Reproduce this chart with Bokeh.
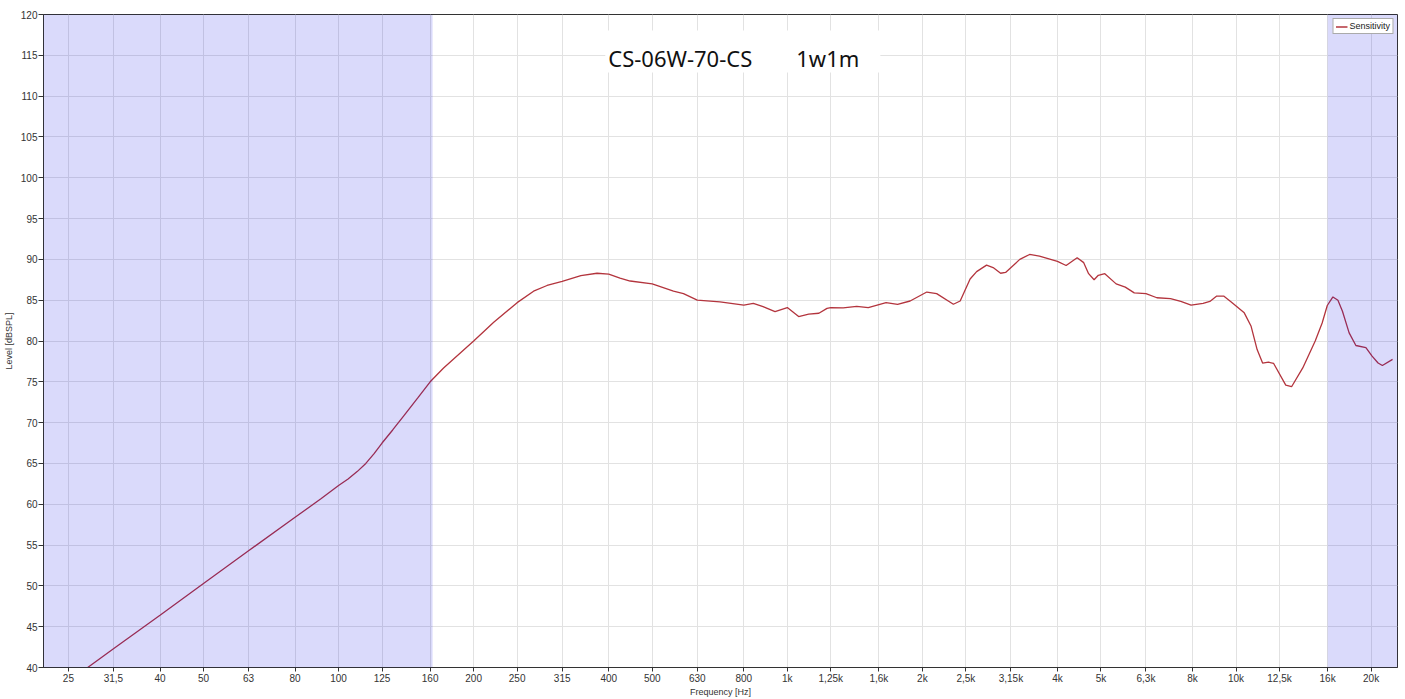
from bokeh.plotting import figure
from bokeh.models import FixedTicker, BoxAnnotation, Label, Legend, LegendItem, ColumnDataSource
from bokeh.embed import file_html
from bokeh.resources import INLINE

# ---- data ----
freq_hz = [27.6, 31.5, 40, 50, 63, 80, 91.5, 100, 105, 110, 115, 120, 125, 132, 140, 150, 160, 171.4,
           200, 221.7, 250, 272, 291.5, 315, 346.7, 376.7, 400, 423.8, 446.5, 500, 557.6, 587,
           630, 707.8, 800, 840, 883, 939, 1000, 1060, 1116, 1176, 1226, 1250, 1332, 1428,
           1515, 1660, 1761, 1878, 2046, 2152, 2345, 2428, 2555, 2642, 2780, 2875, 2988, 3065,
           3297, 3467, 3647, 4000, 4182, 4425, 4577, 4693, 4827, 4933, 5100, 5405, 5665, 5932,
           6300, 6662, 7145, 7532, 7940, 8445, 8745, 9057, 9385, 9725, 10430, 10805, 11143,
           11460, 11813, 12130, 12907, 13298, 14083, 15012, 15557, 15972, 16440, 16870, 17265,
           17867, 18497, 19472, 20100, 20728, 21190, 22328]
level_db = [40.0, 42.3, 46.4, 50.3, 54.3, 58.4, 60.7, 62.3, 63.1, 64.0, 65.0, 66.2, 67.5, 69.1,
            70.9, 73.0, 75.0, 76.7, 80.0, 82.3, 84.7, 86.1, 86.8, 87.3, 88.0, 88.3, 88.2, 87.7,
            87.35, 87.0, 86.1, 85.8, 85.0, 84.8, 84.4, 84.6, 84.2, 83.6, 84.1, 83.0, 83.3, 83.4,
            84.0, 84.1, 84.05, 84.25, 84.1, 84.7, 84.5, 84.9, 86.0, 85.8, 84.5, 84.9, 87.6, 88.5,
            89.3, 89.0, 88.3, 88.4, 90.0, 90.6, 90.4, 89.75, 89.25, 90.2, 89.6, 88.25, 87.5,
            88.05, 88.25, 87.0, 86.6, 85.9, 85.8, 85.3, 85.2, 84.85, 84.4, 84.6, 84.85, 85.5,
            85.5, 84.85, 83.45, 81.8, 78.95, 77.3, 77.4, 77.25, 74.6, 74.4, 76.7, 80.0, 82.2,
            84.35, 85.4, 85.0, 83.65, 81.0, 79.45, 79.2, 78.15, 77.3, 77.0, 77.75]

tick_freqs = [25, 31.5, 40, 50, 63, 80, 100, 125, 160, 200, 250, 315, 400, 500, 630, 800,
              1000, 1250, 1600, 2000, 2500, 3150, 4000, 5000, 6300, 8000, 10000, 12500, 16000, 20000]
tick_labels = ["25", "31,5", "40", "50", "63", "80", "100", "125", "160", "200", "250", "315",
               "400", "500", "630", "800", "1k", "1,25k", "1,6k", "2k", "2,5k", "3,15k", "4k",
               "5k", "6,3k", "8k", "10k", "12,5k", "16k", "20k"]
level_ticks = list(range(40, 121, 5))

series_name = "Sensitivity"
title_part1 = "CS-06W-70-CS"
title_part2 = "1w1m"
band_low_edge = 162
band_high_edge = 16000

# ---- figure ----
p = figure(width=1399, height=699, x_axis_type="log",
           x_range=(22.0, 22900), y_range=(40, 120),
           output_backend="svg", toolbar_location=None,
           min_border_left=43, min_border_right=2, min_border_top=14, min_border_bottom=30,
           background_fill_color="white", border_fill_color="white")
p.outline_line_color = "#333333"
p.outline_line_width = 1

src = ColumnDataSource(dict(f=freq_hz, L=level_db))
r = p.line("f", "L", source=src, line_color="#b3343d", line_width=1.3)

# shaded bands (drawn above the curve, semi-transparent)
for kw in (dict(right=band_low_edge), dict(left=band_high_edge)):
    p.add_layout(BoxAnnotation(fill_color="#0000e6", fill_alpha=0.145, line_alpha=0, **kw))

# axes
p.xaxis.ticker = FixedTicker(ticks=tick_freqs, minor_ticks=[])
p.xaxis.major_label_overrides = {t: l for t, l in zip(tick_freqs, tick_labels)}
p.yaxis.ticker = FixedTicker(ticks=level_ticks, minor_ticks=[])
for ax in (p.xaxis[0], p.yaxis[0]):
    ax.axis_line_color = "#333333"
    ax.major_tick_line_color = "#333333"
    ax.major_tick_in = 0
    ax.major_tick_out = 5
    ax.minor_tick_out = 0
    ax.minor_tick_in = 0
    ax.major_label_text_font = "Liberation Sans"
    ax.major_label_text_font_size = "10px"
    ax.major_label_text_color = "#333333"
    ax.major_label_standoff = 1
    ax.axis_label_text_font = "Liberation Sans"
    ax.axis_label_text_font_size = "9px"
    ax.axis_label_text_font_style = "normal"
    ax.axis_label_text_color = "#333333"
    ax.axis_label_standoff = 2
p.xaxis.axis_label = "Frequency [Hz]"
p.yaxis.axis_label = "Level [dBSPL]"
p.xaxis.major_tick_out = 4
p.xaxis.axis_label_standoff = 0
p.yaxis.axis_label_standoff = 4

p.grid.grid_line_color = "#e2e2e2"
p.grid.grid_line_width = 1
p.xgrid.ticker = FixedTicker(ticks=tick_freqs, minor_ticks=[])
p.ygrid.ticker = FixedTicker(ticks=level_ticks, minor_ticks=[])

# title box
p.add_layout(BoxAnnotation(left=393, right=1612, bottom=112.9, top=118.05,
                           fill_color="white", fill_alpha=1.0, line_alpha=0))
for xx, txt in ((399, title_part1), (1047, title_part2)):
    p.add_layout(Label(x=xx, y=114.7, text=txt, text_font="Noto Sans", text_font_size="22px",
                       text_color="#111111", text_baseline="alphabetic", text_align="left"))

legend = Legend(items=[LegendItem(label=series_name, renderers=[r])], location="top_right")
legend.label_text_font = "Liberation Sans"
legend.label_text_font_size = "9px"
legend.label_text_color = "#222222"
legend.label_height = 9
legend.label_standoff = 2
legend.glyph_height = 9
legend.glyph_width = 12
legend.padding = 2
legend.spacing = 0
legend.margin = 4
legend.border_line_color = "#555555"
legend.border_line_width = 1
legend.background_fill_color = "white"
legend.background_fill_alpha = 1.0
p.add_layout(legend)

open("out.html", "w").write(file_html(p, INLINE))
